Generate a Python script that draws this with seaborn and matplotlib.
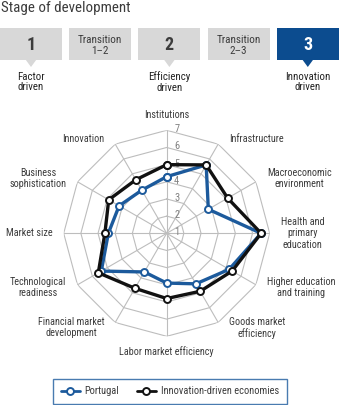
import numpy as np
import pandas as pd
import matplotlib
matplotlib.use("Agg")
import matplotlib.pyplot as plt
from matplotlib.patches import Rectangle, Polygon
from matplotlib.lines import Line2D
import seaborn as sns

# ---- data ---------------------------------------------------------------
pillars = [
    "Institutions", "Infrastructure", "Macroeconomic\nenvironment",
    "Health and\nprimary\neducation", "Higher education\nand training",
    "Goods market\nefficiency", "Labor market efficiency",
    "Financial market\ndevelopment", "Technological\nreadiness",
    "Market size", "Business\nsophistication", "Innovation",
]
portugal = [4.3, 5.6, 3.8, 6.5, 5.2, 4.4, 3.9, 3.6, 5.4, 4.4, 4.2, 3.9]
innovation_driven = [5.0, 5.6, 5.1, 6.5, 5.4, 4.9, 4.8, 4.7, 5.6, 4.6, 4.9, 4.6]
series_names = ["Portugal", "Innovation-driven economies"]
ring_ticks = [1, 2, 3, 4, 5, 6, 7]

stage_boxes = ["1", "Transition\n1\u20132", "2", "Transition\n2\u20133", "3"]
stage_labels = ["Factor\ndriven", "", "Efficiency\ndriven", "", "Innovation\ndriven"]
active_stage = 4

# ---- style --------------------------------------------------------------
sns.set_style("white")
plt.rcParams["font.family"] = ["Roboto Condensed", "DejaVu Sans"]

BLUE = "#1c5a9c"
DARK_BLUE = "#0c4c8f"
BOX_GREY = "#d8d8d8"
GRID = "#bdbdbd"
TEXT = "#3c3c3c"

W, H = 343, 405
fig = plt.figure(figsize=(W / 100, H / 100), dpi=100)

# ---- header: title and stage boxes (figure pixel coords, y down) --------
def fx(px):
    return px / W


def fy(py):
    return 1 - py / H


fig.text(fx(1), fy(8), "Stage of development", fontsize=10.8, color=TEXT,
         ha="left", va="center")

box_w, box_gap, box_top, box_bot = 62, 7.2, 28, 60
for i, (txt, lab) in enumerate(zip(stage_boxes, stage_labels)):
    x0 = i * (box_w + box_gap)
    face = DARK_BLUE if i == active_stage else BOX_GREY
    fig.patches.append(Rectangle((fx(x0), fy(box_bot)), fx(box_w),
                                 fy(box_top) - fy(box_bot),
                                 transform=fig.transFigure, facecolor=face,
                                 edgecolor="none"))
    cx = x0 + box_w / 2
    if "\n" in txt:
        fig.text(fx(cx), fy(45.5), txt, fontsize=8, color=TEXT, ha="center",
                 va="center", linespacing=1.2)
    else:
        fig.text(fx(cx), fy(45), txt, fontsize=13, fontweight="bold",
                 color="white" if i == active_stage else TEXT,
                 ha="center", va="center")
    if lab:
        tri = [(fx(cx - 5.5), fy(box_bot - 0.5)), (fx(cx + 5.5), fy(box_bot - 0.5)),
               (fx(cx), fy(67))]
        fig.patches.append(Polygon(tri, closed=True, transform=fig.transFigure,
                                   facecolor=face, edgecolor="none"))
        fig.text(fx(cx), fy(82), lab, fontsize=7.8, color="#222222",
                 ha="center", va="center", linespacing=1.1)

# ---- radar --------------------------------------------------------------
cx, cy, rad = 166.7, 233.3, 103
ax = fig.add_axes([fx(cx - rad), fy(cy + rad), fx(2 * rad), (2 * rad) / H],
                  projection="polar")
ax.set_theta_zero_location("N")
ax.set_theta_direction(-1)
ax.set_ylim(ring_ticks[0], ring_ticks[-1])
ax.set_xticks([])
ax.set_yticks([])
ax.grid(False)
ax.spines["polar"].set_visible(False)
ax.patch.set_alpha(0)

n = len(pillars)
theta = np.linspace(0, 2 * np.pi, n, endpoint=False)
theta_closed = np.append(theta, 2 * np.pi)

# polygonal grid rings and spokes
for r in ring_ticks[1:]:
    ax.plot(theta_closed, [r] * (n + 1), color=GRID, lw=0.8, zorder=1)
for t in theta:
    ax.plot([t, t], [ring_ticks[0], ring_ticks[-1]], color=GRID, lw=0.8, zorder=1)

# ring value labels, just right of the vertical spoke
for r in ring_ticks:
    ax.annotate(str(r), xy=(0, r), xytext=(10, 1), textcoords="offset pixels",
                fontsize=7.5, color="#808080", ha="center", va="center", zorder=2)

# pillar labels around the outer ring
for t, lab in zip(theta, pillars):
    s, c = np.sin(t), np.cos(t)
    if abs(s) < 0.1:
        ha, ox, oy = "center", 0, 15.5 * c
    else:
        ha = "left" if s > 0 else "right"
        ox, oy = 11 * np.sign(s), 6 * c
    ax.annotate(lab, xy=(t, ring_ticks[-1]), xytext=(ox, oy),
                textcoords="offset pixels", ha=ha, va="center",
                multialignment="center", fontsize=7.3, color=TEXT,
                linespacing=1.15, annotation_clip=False)

# data series
frames = []
for name, vals in zip(series_names, [portugal, innovation_driven]):
    frames.append(pd.DataFrame({"theta": theta_closed,
                                "score": vals + [vals[0]],
                                "series": name}))
df = pd.concat(frames, ignore_index=True)
colors = {series_names[0]: BLUE, series_names[1]: "#111111"}
for name in series_names:
    sub = df[df["series"] == name]
    sns.lineplot(data=sub, x="theta", y="score", sort=False, estimator=None,
                 ax=ax, color=colors[name], lw=2.4, marker="o", markersize=5,
                 markerfacecolor="white", markeredgecolor=colors[name],
                 markeredgewidth=1.4, zorder=3 + series_names.index(name),
                 legend=False)
ax.set_xlabel("")
ax.set_ylabel("")
ax.set_ylim(ring_ticks[0], ring_ticks[-1])

# ---- legend -------------------------------------------------------------
handles = [Line2D([], [], color=colors[nm], lw=2, marker="o", markersize=5,
                  markerfacecolor="white", markeredgecolor=colors[nm],
                  markeredgewidth=1.4) for nm in series_names]
leg = fig.legend(handles, series_names, loc="center",
                 bbox_to_anchor=(fx(170), fy(391.5)), ncol=2, fontsize=7.5,
                 frameon=True, fancybox=False, handlelength=1.8,
                 handletextpad=0.5, columnspacing=1.7, borderpad=0.75)
leg.get_frame().set_edgecolor(BLUE)
leg.get_frame().set_linewidth(1.0)
for t in leg.get_texts():
    t.set_color(TEXT)

fig.savefig("out.png", dpi=100)
